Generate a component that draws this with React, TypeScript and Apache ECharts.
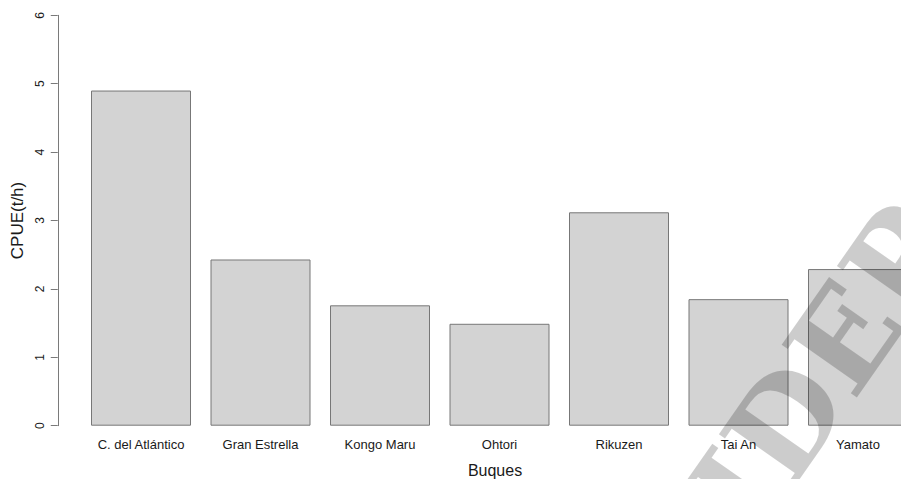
import React, { useEffect, useRef } from "react";
import * as echarts from "echarts";

// CPUE per vessel
const vessels = [
  "C. del Atlántico",
  "Gran Estrella",
  "Kongo Maru",
  "Ohtori",
  "Rikuzen",
  "Tai An",
  "Yamato",
];
const cpue = [4.9, 2.43, 1.76, 1.49, 3.12, 1.85, 2.29];
const yTicks = [0, 1, 2, 3, 4, 5, 6];

const FONT = "'Liberation Sans', Arial, Helvetica, sans-serif";

export default function App() {
  const ref = useRef<HTMLDivElement>(null);

  useEffect(() => {
    if (!ref.current) return;
    const chart = echarts.init(ref.current, undefined, { renderer: "svg" });
    chart.setOption({
      animation: false,
      backgroundColor: "#ffffff",
      grid: { left: 81.25, top: 15.3, width: 836.5, height: 410.4, containLabel: false },
      xAxis: {
        type: "category",
        data: vessels,
        boundaryGap: true,
        axisLine: { show: false },
        axisTick: { show: false },
        axisLabel: {
          fontFamily: FONT,
          fontSize: 13,
          color: "#1a1a1a",
          margin: 12,
          interval: 0,
        },
        splitLine: { show: false },
      },
      yAxis: {
        type: "value",
        min: yTicks[0],
        max: yTicks[yTicks.length - 1],
        interval: 1,
        offset: 23.5,
        axisLine: { show: true, lineStyle: { color: "#7a7a7a", width: 1 } },
        axisTick: { show: true, length: 7, lineStyle: { color: "#7a7a7a", width: 1 } },
        axisLabel: {
          rotate: 90,
          fontFamily: FONT,
          fontSize: 12,
          color: "#1a1a1a",
          margin: 12,
        },
        splitLine: { show: false },
      },
      series: [
        {
          type: "bar",
          data: cpue,
          barWidth: 100,
          itemStyle: {
            color: "#d3d3d3",
            borderColor: "#777777",
            borderWidth: 1,
          },
        },
      ],
      graphic: [
        {
          type: "text",
          x: 17.5,
          y: 220.5,
          rotation: Math.PI / 2,
          style: {
            text: "CPUE(t/h)",
            fontFamily: FONT,
            fontSize: 17,
            fill: "#1a1a1a",
            align: "center",
            verticalAlign: "middle",
          },
        },
        {
          type: "text",
          x: 495,
          y: 470,
          style: {
            text: "Buques",
            fontFamily: FONT,
            fontSize: 16,
            fill: "#1a1a1a",
            align: "center",
            verticalAlign: "middle",
          },
        },
        {
          // diagonal watermark
          type: "text",
          x: 774,
          y: 439,
          z: 100,
          rotation: (55 * Math.PI) / 180,
          silent: true,
          style: {
            text: "INIDEP",
            fontFamily: "'DejaVu Serif', 'Liberation Serif', serif",
            fontWeight: "bold",
            fontSize: 126,
            fill: "rgba(0,0,0,0.2)",
            align: "center",
            verticalAlign: "middle",
          },
        },
      ],
    });
    return () => chart.dispose();
  }, []);

  return (
    <div
      style={{
        position: "absolute",
        left: 0,
        top: 0,
        width: 901,
        height: 479,
        overflow: "hidden",
      }}
    >
      <div ref={ref} style={{ width: 960, height: 479 }} />
    </div>
  );
}
